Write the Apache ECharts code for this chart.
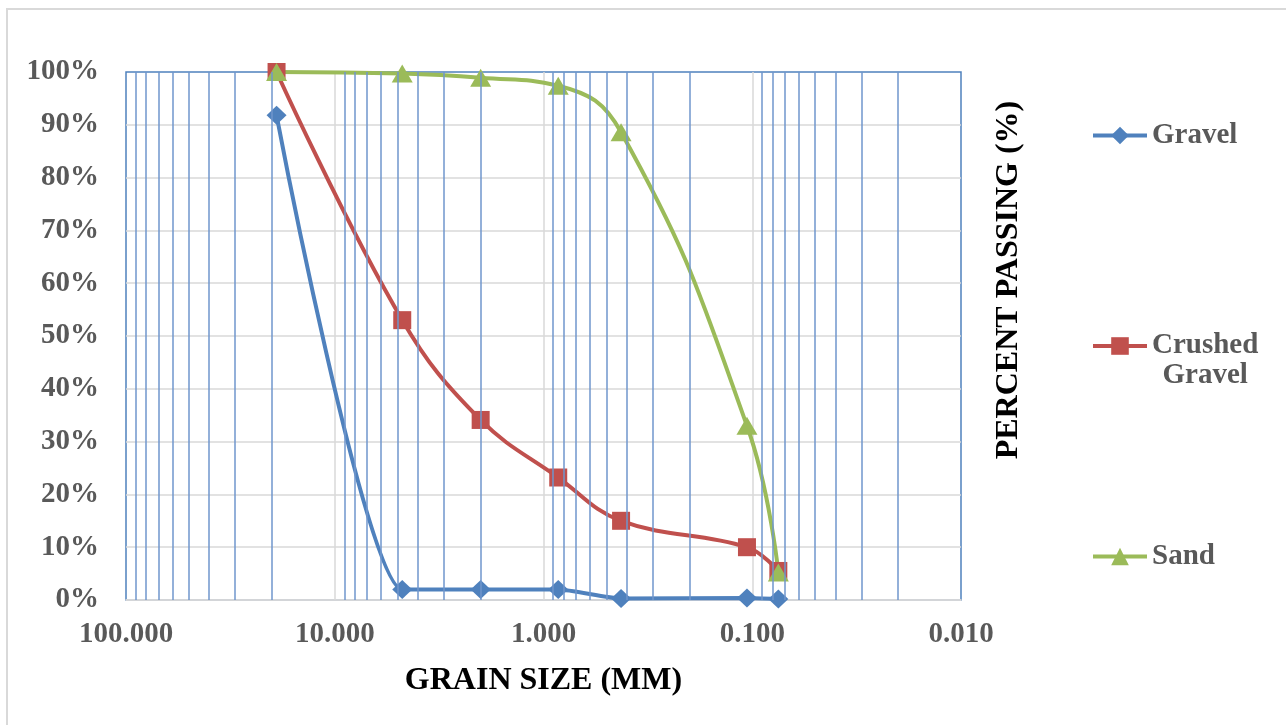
<!DOCTYPE html>
<html>
<head>
<meta charset="utf-8">
<script src="https://cdn.jsdelivr.net/npm/echarts@6/dist/echarts.min.js"></script>
<style>
html,body{margin:0;padding:0;background:#fff;}
#chart{width:1286px;height:725px;}
</style>
</head>
<body>
<div id="chart"></div>
<script>
// Sieve sizes (mm)
const grainSizes = [19.0, 4.75, 2.0, 0.85, 0.425, 0.106, 0.075];
// Percent passing
const gravel = [91.8, 2.0, 2.0, 2.0, 0.3, 0.4, 0.2];
const crushedGravel = [100, 53.0, 34.1, 23.2, 15.0, 10.0, 5.5];
const sand = [100, 99.7, 98.9, 97.4, 88.6, 33.0, 5.2];
const seriesNames = ['Gravel', 'Crushed Gravel', 'Sand'];
// Axis range / log grid lines
const xMin = 0.01, xMax = 100;
const yMin = 0, yMax = 100, yStep = 10;
const minorGridLines = [90, 80, 70, 60, 50, 40, 30, 20,
                        9, 8, 7, 6, 5, 4, 3, 2,
                        0.9, 0.8, 0.7, 0.6, 0.5, 0.4, 0.3, 0.2,
                        0.09, 0.08, 0.07, 0.06, 0.05, 0.04, 0.03, 0.02];

const FONT = '"Liberation Serif", "Times New Roman", serif';
const BLUE = '#4F81BD', RED = '#C0504D', GREEN = '#9BBB59';
const GRID_GRAY = '#d9d9d9';
const LABEL_GRAY = '#595959';

function pairs(xs, ys) { return xs.map((x, i) => [x, ys[i]]); }

const chart = echarts.init(document.getElementById('chart'), null, {renderer: 'canvas'});

const lineSeries = (name, data, color, symbol, size, smooth) => ({
  type: 'line', name: name, data: pairs(grainSizes, data),
  smooth: smooth, clip: false, z: 3,
  symbol: symbol, symbolSize: size,
  lineStyle: {color: color, width: 4},
  itemStyle: {color: color, borderWidth: 0},
  emphasis: {disabled: true}
});

chart.setOption({
  animation: false,
  backgroundColor: '#fff',
  graphic: [
    {type: 'rect', shape: {x: 7, y: 9, width: 1400, height: 1000}, style: {fill: 'none', stroke: GRID_GRAY, lineWidth: 2}, silent: true, z: -10},
    {type: 'text', x: 1009, y: 280, rotation: Math.PI / 2,
     style: {text: 'PERCENT PASSING (%)', font: 'bold 32px ' + FONT, fill: '#000', align: 'center', verticalAlign: 'middle'}}
  ],
  grid: {left: 126, top: 72, width: 835, height: 528, show: true, borderColor: BLUE, borderWidth: 1.5, backgroundColor: 'transparent'},
  legend: {
    orient: 'vertical', left: 1091, top: 121, padding: 0,
    itemWidth: 54, itemHeight: 22, itemGap: 151.5,
    data: seriesNames,
    lineStyle: {width: 4},
    formatter: function (name) {
      if (name === 'Crushed Gravel') return '{c| }\n{c|Crushed}\n{c|Gravel}';
      return '{c|' + name + '}';
    },
    textStyle: {
      fontFamily: FONT, fontSize: 29, fontWeight: 'bold', color: LABEL_GRAY,
      rich: {c: {fontFamily: FONT, fontSize: 29, fontWeight: 'bold', color: LABEL_GRAY, lineHeight: 30, align: 'center'}}
    }
  },
  xAxis: {
    type: 'log', logBase: 10, min: xMin, max: xMax, inverse: true,
    axisLine: {show: true, lineStyle: {color: GRID_GRAY, width: 1.5}},
    axisTick: {show: false},
    axisLabel: {
      margin: 20, fontFamily: FONT, fontSize: 29, fontWeight: 'bold', color: LABEL_GRAY,
      formatter: v => Number(v).toFixed(3)
    },
    splitLine: {show: true, showMinLine: false, showMaxLine: false, lineStyle: {color: GRID_GRAY, width: 1.5}},
    name: 'GRAIN SIZE (MM)', nameLocation: 'middle', nameGap: 65,
    nameTextStyle: {fontFamily: FONT, fontSize: 32, fontWeight: 'bold', color: '#000'}
  },
  yAxis: {
    type: 'value', min: yMin, max: yMax, interval: yStep,
    axisLine: {show: false}, axisTick: {show: false},
    axisLabel: {margin: 27, fontFamily: FONT, fontSize: 29, fontWeight: 'bold', color: LABEL_GRAY, formatter: '{value}%'},
    splitLine: {show: true, showMaxLine: false, lineStyle: {color: GRID_GRAY, width: 1.5}}
  },
  series: [
    {
      type: 'line', name: 'grid', data: [], z: 1, silent: true,
      markLine: {
        silent: true, animation: false, symbol: ['none', 'none'], label: {show: false},
        lineStyle: {color: '#6f96cc', width: 1.5, type: 'solid'},
        emphasis: {disabled: true},
        data: minorGridLines.map(v => ({xAxis: v}))
      }
    },
    lineSeries('Gravel', gravel, BLUE, 'diamond', [20, 19], 0.2),
    lineSeries('Crushed Gravel', crushedGravel, RED, 'rect', [18, 18], 0.4),
    lineSeries('Sand', sand, GREEN, 'triangle', [21, 18], 0.45)
  ]
});
</script>
</body>
</html>
